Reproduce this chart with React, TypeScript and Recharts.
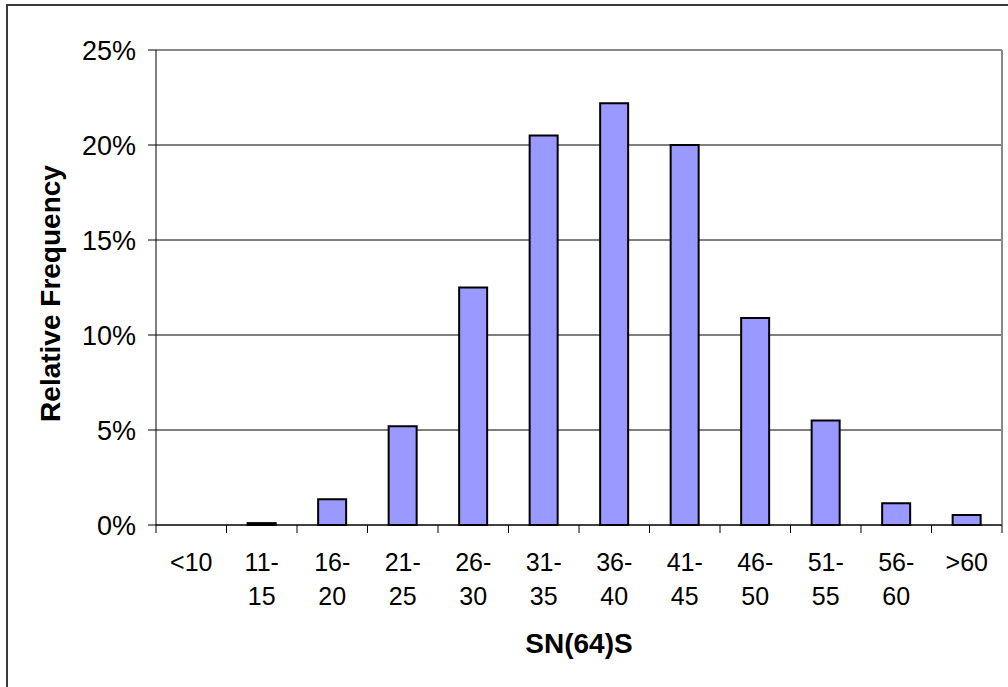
import React from "react";
import { BarChart, Bar, XAxis, YAxis, CartesianGrid, Label } from "recharts";

const binLabels = ["<10", "11-15", "16-20", "21-25", "26-30", "31-35", "36-40", "41-45", "46-50", "51-55", "56-60", ">60"];
const relFreq = [0, 0.001, 0.0135, 0.052, 0.125, 0.205, 0.222, 0.2, 0.109, 0.055, 0.0115, 0.0052];
const yTicks = [0, 0.05, 0.1, 0.15, 0.2, 0.25];

const data = binLabels.map((bin, i) => ({ bin, value: relFreq[i] }));

const FONT = "Arial, 'Liberation Sans', sans-serif";

// category labels split after the dash, tick marks drawn on the bin edges
function BinTick(props: any) {
  const { x, y, payload, index } = props;
  const label: string = payload.value;
  const half = payload.offset || 0;
  const dash = label.indexOf("-");
  const lines = dash > 0 ? [label.slice(0, dash + 1), label.slice(dash + 1)] : [label];
  return (
    <g>
      <line x1={x - half} x2={x - half} y1={y} y2={y + 8} stroke="#000" />
      {index === binLabels.length - 1 && (
        <line x1={x + half} x2={x + half} y1={y} y2={y + 8} stroke="#000" />
      )}
      <text textAnchor="middle" fontSize={25} fontFamily={FONT} fill="#000">
        {lines.map((line, i) => (
          <tspan key={i} x={x} y={y + 46 + i * 34}>
            {line}
          </tspan>
        ))}
      </text>
    </g>
  );
}

export default function App() {
  return (
    <div style={{ position: "fixed", left: 0, top: 0, width: 1008, height: 687, overflow: "hidden", background: "#fff" }}>
      <div
        style={{
          position: "absolute",
          left: 6,
          top: 4,
          width: 1020,
          height: 700,
          border: "2px solid #3a3a3a",
        }}
      />
      <div style={{ position: "absolute", left: 0, top: 0 }}>
        <BarChart
          width={1008}
          height={687}
          data={data}
          margin={{ top: 50, right: 6, left: 0, bottom: 0 }}
          barCategoryGap="30%"
        >
          <CartesianGrid vertical={false} stroke="#000" strokeWidth={1} />
          <CartesianGrid
            horizontalCoordinatesGenerator={({ offset }: any) => [offset.top]}
            verticalCoordinatesGenerator={({ offset }: any) => [offset.left + offset.width]}
            stroke="#888"
            strokeWidth={2}
          />
          <XAxis
            dataKey="bin"
            height={162}
            tickLine={false}
            axisLine={{ stroke: "#000" }}
            tickSize={0}
            tickMargin={0}
            interval={0}
            tick={<BinTick />}
          >
            <Label
              value="SN(64)S"
              position="insideTop"
              offset={108}
              fontSize={28}
              fontWeight="bold"
              fontFamily={FONT}
              fill="#000"
            />
          </XAxis>
          <YAxis
            domain={[0, 0.25]}
            ticks={yTicks}
            width={156}
            tickSize={8}
            tickMargin={12}
            tickFormatter={(v: number) => `${Math.round(v * 100)}%`}
            tick={{ fontSize: 27, fontFamily: FONT, fill: "#000" }}
            tickLine={{ stroke: "#000" }}
            axisLine={{ stroke: "#000" }}
          >
            <Label
              value="Relative Frequency"
              angle={-90}
              position="insideLeft"
              offset={50}
              dy={6}
              fontSize={28}
              fontWeight="bold"
              fontFamily={FONT}
              fill="#000"
              style={{ textAnchor: "middle" }}
            />
          </YAxis>
          <Bar
            dataKey="value"
            fill="#9999FF"
            stroke="#000"
            strokeWidth={2}
            isAnimationActive={false}
          />
        </BarChart>
      </div>
    </div>
  );
}
